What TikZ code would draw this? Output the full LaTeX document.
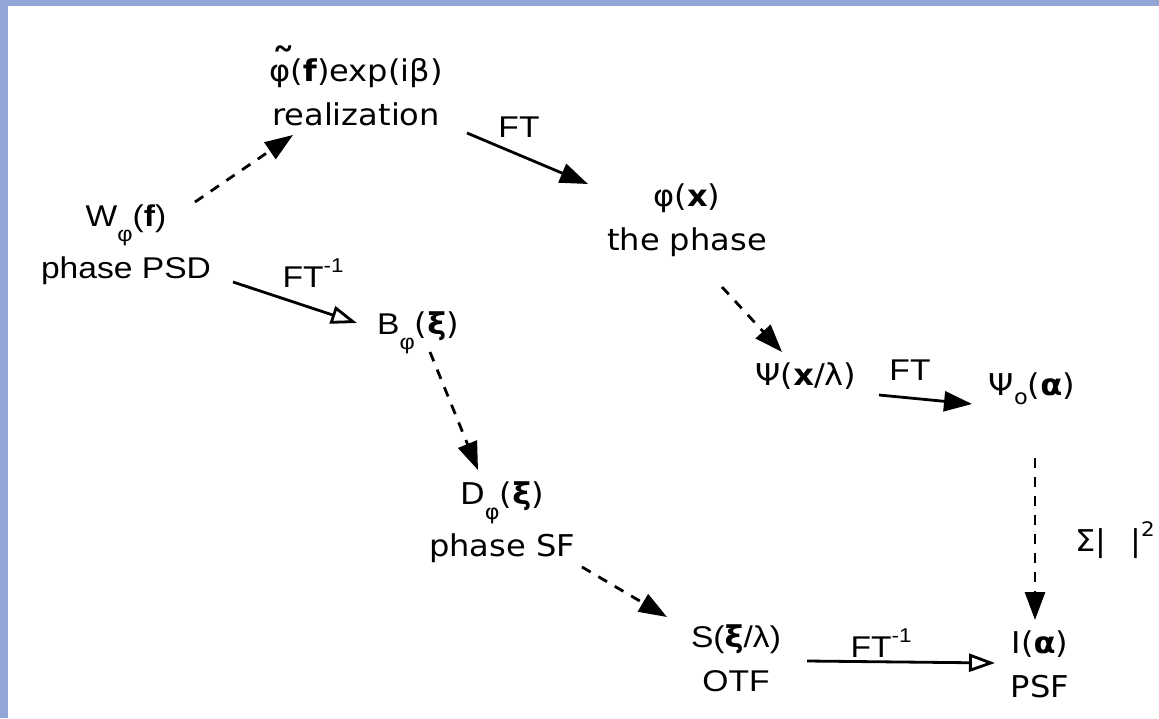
\documentclass[tikz,border=0pt]{standalone}
\usepackage{fontspec}
\setmainfont[FakeStretch=1.07]{DejaVu Sans}
\newfontfamily\hv[FakeStretch=1.12]{Liberation Sans}
\usepackage{tikz}
\usetikzlibrary{arrows.meta,calc}

\definecolor{framebl}{RGB}{147,164,214}

\newcommand{\lowsub}[1]{\raisebox{-0.5em}{\fontsize{21}{21}\selectfont #1}}
\newcommand{\osub}[1]{\raisebox{-0.3em}{\fontsize{21}{21}\selectfont #1}}
\newcommand{\hisup}[1]{\raisebox{0.5em}{\fontsize{20}{20}\selectfont #1}}
\newcommand{\tildephi}{\rlap{\smash{\fontsize{46}{46}\selectfont\kern0.04em\char"02DC}}φ}

\begin{document}
\begin{tikzpicture}[x=1pt, y=-1pt,
  txt/.style={align=center, inner sep=0pt, font=\fontsize{30}{44}\selectfont},
  hvtxt/.style={txt, font=\hv\fontsize{30}{44}\selectfont},
  lbl/.style={inner sep=0pt, font=\hv\fontsize{30}{36}\selectfont},
  sol/.style={line width=2.8pt, -{Triangle[length=28pt, width=20pt]}},
  dsh/.style={sol, dash pattern=on 10pt off 9pt},
  opn/.style={line width=2.8pt, -{Triangle[open, length=26pt, width=18pt]}}
]
% frame
\useasboundingbox (0,0) rectangle (1159,718);
\fill[framebl] (0,0) rectangle (1159,718);
\fill[white] (8,6) rectangle (1159,718);

% quantities
\node[hvtxt] (W) at (126,245) {W\lowsub{φ}(\textbf{f})\\[8pt] phase PSD};
\node[txt] (real) at ([shift={(230,-153)}]W) {\tildephi(\textbf{f})exp(iβ)\\ realization};
\node[hvtxt] (B) at ([shift={(292,88)}]W) {B\lowsub{φ}{\rmfamily(\textbf{ξ})}};
\node[txt] (phi) at ([shift={(331,128)}]real) {φ(\textbf{x})\\ the phase};
\node[txt] (D) at ([shift={(84,189)}]B) {D\lowsub{φ}(\textbf{ξ})\\[8pt] phase SF};
\node[txt] (Psi) at ([shift={(119,156)}]phi) {Ψ(\textbf{x}/λ)};
\node[txt] (Psio) at ([shift={(226,13)}]Psi) {Ψ\osub{o}(\textbf{α})};
\node[hvtxt] (S) at ([shift={(234,136)}]D) {S({\rmfamily\textbf{ξ}}/λ)\\ OTF};
\node[txt] (I) at ([shift={(8,275)}]Psio) {I(\textbf{α})\\ PSF};

% transforms
\draw[dsh] ($(W)+(69,-43)$) -- ($(real)+(-63,43)$);
\draw[sol] ($(real)+(111,41)$) -- node[lbl, midway, xshift=-8.5pt, yshift=31.5pt] (ftA) {FT} ($(phi)+(-99,-36)$);
\draw[opn] ($(W)+(107,37)$) -- node[lbl, midway, xshift=18pt, yshift=29.5pt] (iftA) {FT\hisup{-1}} ($(B)+(-61,-10)$);
\draw[dsh] ($(phi)+(35,67)$) -- ($(Psi)+(-24,-24)$);
\draw[dsh] ($(B)+(12,19)$) -- ($(D)+(-24,-52)$);
\draw[sol] ($(Psi)+(73,19)$) -- node[lbl, midway, xshift=-15.5pt, yshift=29.5pt] (ftB) {FT} ($(Psio)+(-60,15)$);
\draw[dsh] ($(D)+(80,45)$) -- ($(S)+(-69,-41)$);
\draw[dsh] ($(Psio)+(3,69)$) -- node[txt, midway, xshift=80pt, yshift=-1pt] (sq) {Σ|\hspace{0.8em}|\hisup{2}} ($(I)+(-5,-44)$);
\draw[opn] ($(S)+(71,3)$) -- node[lbl, midway, xshift=-20pt, yshift=19pt] (iftB) {FT\hisup{-1}} ($(I)+(-45,-1)$);
\end{tikzpicture}
\end{document}
